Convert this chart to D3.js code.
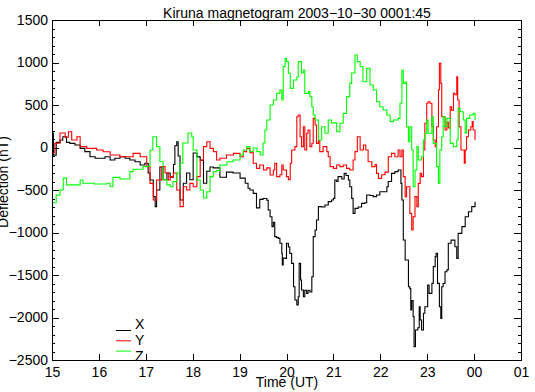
<!DOCTYPE html>
<html>
<head>
<meta charset="utf-8">
<script src="https://cdn.jsdelivr.net/npm/d3@7"></script>
<style>
  body { margin: 0; background: #fff; }
  svg { display: block; }
</style>
</head>
<body>
<svg id="chart" width="535" height="392"></svg>
<script>
// magnetometer components (hours UT, nT)
var xTimes = [15.00, 15.03, 15.09, 15.17, 15.23, 15.31, 15.38, 15.49, 15.60, 15.70, 15.81, 15.92, 16.02, 16.13, 16.24, 16.34, 16.45, 16.56, 16.66, 16.77, 16.88, 16.98, 17.05, 17.09, 17.16, 17.20, 17.23, 17.30, 17.37, 17.45, 17.52, 17.59, 17.62, 17.66, 17.69, 17.73, 17.80, 17.87, 17.94, 18.01, 18.09, 18.16, 18.23, 18.30, 18.37, 18.44, 18.51, 18.58, 18.72, 18.86, 19.01, 19.12, 19.18, 19.22, 19.29, 19.36, 19.43, 19.50, 19.58, 19.61, 19.65, 19.69, 19.72, 19.75, 19.79, 19.83, 19.86, 19.90, 19.91, 19.93, 19.97, 20.00, 20.04, 20.07, 20.11, 20.15, 20.18, 20.22, 20.25, 20.27, 20.30, 20.32, 20.36, 20.39, 20.43, 20.46, 20.50, 20.54, 20.57, 20.61, 20.64, 20.68, 20.75, 20.82, 20.89, 20.96, 21.00, 21.03, 21.07, 21.10, 21.18, 21.23, 21.27, 21.32, 21.35, 21.39, 21.42, 21.46, 21.53, 21.60, 21.67, 21.71, 21.78, 21.85, 21.92, 21.99, 22.06, 22.14, 22.17, 22.24, 22.31, 22.38, 22.42, 22.44, 22.46, 22.49, 22.53, 22.60, 22.63, 22.65, 22.67, 22.70, 22.72, 22.75, 22.80, 22.83, 22.85, 22.88, 22.92, 22.95, 23.01, 23.04, 23.10, 23.13, 23.17, 23.19, 23.22, 23.26, 23.29, 23.31, 23.34, 23.38, 23.42, 23.45, 23.51, 23.54, 23.59, 23.63, 23.66, 23.74, 23.81, 23.88, 23.95, 24.02];
var xValues = [170, -90, 60, 88, 127, 60, 49, 29, -10, -49, -108, -127, -127, -108, -147, -127, -108, -127, -147, -167, -206, -186, -300, -382, -578, -696, -500, -230, -380, -300, -350, -200, 20, 68, -100, -618, -420, -300, -380, -65, -110, -150, -420, -280, -230, -240, -240, -350, -290, -300, -360, -420, -480, -500, -540, -710, -610, -600, -620, -735, -814, -931, -880, -1049, -1060, -1069, -1127, -1245, -1382, -1300, -1304, -1127, -1170, -1245, -1363, -1638, -1794, -1853, -1755, -1363, -1559, -1676, -1755, -1680, -1716, -1680, -1700, -1520, -1049, -970, -853, -696, -700, -676, -637, -618, -598, -382, -400, -343, -370, -304, -330, -382, -461, -598, -775, -716, -700, -657, -650, -559, -565, -578, -559, -520, -520, -461, -400, -304, -284, -265, -265, -422, -618, -1088, -1324, -1638, -1660, -1912, -1800, -1990, -2343, -2147, -2120, -1873, -2029, -2147, -1950, -1873, -1618, -1716, -1598, -1402, -1284, -1245, -1598, -1873, -2010, -1638, -1600, -1461, -1440, -1127, -1088, -1090, -1167, -1304, -1010, -931, -814, -755, -696, -637];

var yTimes = [15.00, 15.06, 15.17, 15.28, 15.35, 15.42, 15.53, 15.60, 15.74, 15.95, 16.09, 16.24, 16.45, 16.66, 16.73, 16.88, 17.02, 17.09, 17.16, 17.23, 17.34, 17.41, 17.48, 17.52, 17.59, 17.66, 17.73, 17.80, 17.87, 17.94, 18.01, 18.09, 18.16, 18.23, 18.30, 18.37, 18.44, 18.51, 18.58, 18.72, 18.87, 19.01, 19.08, 19.15, 19.22, 19.29, 19.36, 19.43, 19.51, 19.58, 19.65, 19.72, 19.75, 19.79, 19.86, 19.90, 19.93, 20.00, 20.04, 20.08, 20.11, 20.18, 20.22, 20.25, 20.29, 20.32, 20.36, 20.39, 20.43, 20.46, 20.50, 20.54, 20.57, 20.61, 20.64, 20.68, 20.71, 20.78, 20.86, 20.89, 20.93, 21.00, 21.07, 21.14, 21.21, 21.28, 21.35, 21.42, 21.46, 21.51, 21.57, 21.64, 21.69, 21.74, 21.82, 21.89, 21.92, 21.96, 22.03, 22.10, 22.17, 22.24, 22.31, 22.38, 22.42, 22.46, 22.49, 22.53, 22.56, 22.60, 22.63, 22.67, 22.70, 22.74, 22.78, 22.81, 22.85, 22.88, 22.92, 22.95, 22.99, 23.02, 23.06, 23.10, 23.13, 23.17, 23.20, 23.24, 23.26, 23.29, 23.31, 23.34, 23.38, 23.42, 23.45, 23.49, 23.52, 23.56, 23.59, 23.63, 23.65, 23.68, 23.72, 23.79, 23.81, 23.84, 23.88, 23.93, 23.96, 23.98, 24.02];
var yValues = [-65, 50, 170, 120, 186, 88, 127, 10, -10, -29, -50, -88, -108, -108, -69, -108, -225, -422, -618, -382, -225, -300, -382, -343, -300, -500, -696, -461, -500, -422, -461, -343, -147, 10, 68, -10, -49, -147, -127, -88, -69, -108, -49, -10, -60, -186, -245, -206, -265, -240, -323, -265, -186, -343, -320, -206, -265, -343, -380, -186, -29, 10, 362, 382, 127, 10, 245, -29, 167, 206, 10, 50, 343, 265, 49, 80, -49, 10, -49, -108, -225, -245, -206, -225, -206, -245, -265, -147, -49, 127, -29, 29, -29, -167, -225, -200, -304, -363, -320, -290, -108, -69, -108, -29, -108, -29, -343, -578, -461, -461, -775, -970, -814, -578, -696, -422, -304, -343, -29, 285, 520, 539, 520, 245, 88, 10, 245, 676, 990, 755, 362, 362, 206, 300, 230, 480, 440, 637, 620, 833, 559, 245, -29, -186, -29, 127, 206, 245, 304, 206, 88];

var zTimes = [15.00, 15.09, 15.17, 15.24, 15.31, 15.38, 15.53, 15.60, 15.66, 15.90, 16.17, 16.24, 16.30, 16.39, 16.45, 16.60, 16.66, 16.73, 16.88, 16.94, 17.02, 17.09, 17.15, 17.23, 17.30, 17.37, 17.45, 17.52, 17.58, 17.66, 17.73, 17.79, 17.90, 17.98, 18.01, 18.09, 18.16, 18.23, 18.30, 18.37, 18.44, 18.51, 18.58, 18.73, 18.86, 19.01, 19.08, 19.15, 19.22, 19.29, 19.37, 19.44, 19.50, 19.54, 19.58, 19.65, 19.72, 19.79, 19.86, 19.90, 19.93, 19.97, 20.00, 20.04, 20.08, 20.15, 20.22, 20.25, 20.32, 20.36, 20.39, 20.47, 20.50, 20.54, 20.57, 20.61, 20.68, 20.75, 20.82, 20.89, 20.96, 21.07, 21.14, 21.21, 21.28, 21.35, 21.39, 21.46, 21.51, 21.57, 21.63, 21.71, 21.78, 21.85, 21.92, 21.99, 22.06, 22.14, 22.21, 22.28, 22.38, 22.42, 22.46, 22.49, 22.53, 22.56, 22.60, 22.63, 22.67, 22.70, 22.74, 22.78, 22.81, 22.88, 22.92, 22.95, 22.99, 23.02, 23.10, 23.13, 23.20, 23.24, 23.27, 23.31, 23.34, 23.38, 23.42, 23.49, 23.56, 23.63, 23.66, 23.70, 23.77, 23.81, 23.84, 23.91, 23.98, 24.02];
var zValues = [-650, -560, -500, -360, -440, -440, -440, -382, -420, -430, -420, -461, -351, -351, -370, -370, -284, -255, -255, -225, -220, -29, 127, 10, -167, -380, -440, -461, -402, -300, -185, 53, 170, 127, -29, -382, -500, -594, -520, -343, -284, -270, -206, -167, -147, -88, -29, 10, -49, -6, -49, -88, 53, 206, 323, 500, 559, 637, 676, 559, 951, 1049, 1010, 873, 696, 794, 830, 1010, 876, 912, 637, 657, 598, 480, 382, 323, 88, 245, 167, 323, 290, 186, 285, 402, 598, 755, 876, 1088, 1010, 951, 774, 931, 735, 676, 539, 480, 441, 382, 304, 323, 343, 520, 912, 755, 770, 245, 68, 245, -29, -461, -265, 10, -147, -108, 88, 167, 323, 167, 362, 49, -225, -422, -29, 127, 362, 245, 343, 49, 10, 88, 461, 421, 323, 167, 343, 382, 402, 323];

var hourTicks = [15, 16, 17, 18, 19, 20, 21, 22, 23, 24, 25];
var hourLabels = ["15", "16", "17", "18", "19", "20", "21", "22", "23", "00", "01"];
var nTTicks = [1500, 1000, 500, 0, -500, -1000, -1500, -2000, -2500];

var seriesNames = ["X", "Y", "Z"];
var seriesColors = ["#000000", "#ff0000", "#00ff00"];

var svg = d3.select("#chart");
var plotLeft = 52, plotRight = 521, plotTop = 20, plotBottom = 360;
var FONT = "'Liberation Sans', Arial, sans-serif";
var FONT_SIZE = 14;

var x = d3.scaleLinear().domain([15, 25]).range([plotLeft, plotRight]);
var y = d3.scaleLinear().domain([-2500, 1500]).range([plotBottom, plotTop]);

function pairs(times, values) {
    return times.map(function (t, i) { return [t, values[i]]; });
}
var series = [
    pairs(xTimes, xValues),
    pairs(yTimes, yValues),
    pairs(zTimes, zValues)
];

var line = d3.line()
    .x(function (d) { return x(d[0]); })
    .y(function (d) { return y(d[1]); })
    .curve(d3.curveStepAfter);

svg.append("g")
    .selectAll("path")
    .data(series)
    .enter()
    .append("path")
    .attr("d", line)
    .attr("fill", "none")
    .attr("stroke", function (d, i) { return seriesColors[i]; })
    .attr("stroke-width", 1.1);

// IDL style boxed axes, ticks pointing inward
var minorTicks = d3.range(-2500, 1501, 100);

function tickGroup(axis, transform) {
    var g = svg.append("g")
        .attr("transform", transform)
        .call(axis);
    g.select(".domain").remove();
    g.selectAll("line").attr("stroke", "#000").attr("shape-rendering", "crispEdges");
    g.selectAll("text").attr("font-family", FONT).attr("font-size", FONT_SIZE).attr("fill", "#000");
    return g;
}

tickGroup(d3.axisBottom(x).tickValues(hourTicks).tickSize(-6).tickPadding(7)
    .tickFormat(function (d, i) { return hourLabels[i]; }), "translate(0," + plotBottom + ")");
tickGroup(d3.axisTop(x).tickValues(hourTicks).tickSize(-6).tickFormat(""), "translate(0," + plotTop + ")");

tickGroup(d3.axisLeft(y).tickValues(minorTicks).tickSize(-3).tickFormat(""), "translate(" + plotLeft + ",0)");
tickGroup(d3.axisLeft(y).tickValues(nTTicks).tickSize(-7).tickPadding(4)
    .tickFormat(function (d) { return String(d).replace("-", "\u2212"); }), "translate(" + plotLeft + ",0)");
tickGroup(d3.axisRight(y).tickValues(minorTicks).tickSize(-3).tickFormat(""), "translate(" + plotRight + ",0)");
tickGroup(d3.axisRight(y).tickValues(nTTicks).tickSize(-7).tickFormat(""), "translate(" + plotRight + ",0)");

svg.append("rect")
    .attr("x", plotLeft + 0.5)
    .attr("y", plotTop + 0.5)
    .attr("width", plotRight - plotLeft)
    .attr("height", plotBottom - plotTop)
    .attr("fill", "none")
    .attr("stroke", "#000")
    .attr("shape-rendering", "crispEdges");

svg.append("text")
    .attr("x", 297)
    .attr("y", 18)
    .attr("text-anchor", "middle")
    .attr("font-family", FONT)
    .attr("font-size", FONT_SIZE)
    .text("Kiruna magnetogram 2003\u221210\u221230 0001:45");

svg.append("text")
    .attr("x", 287)
    .attr("y", 387)
    .attr("text-anchor", "middle")
    .attr("font-family", FONT)
    .attr("font-size", FONT_SIZE)
    .text("Time (UT)");

svg.append("text")
    .attr("transform", "translate(8,182) rotate(-90)")
    .attr("text-anchor", "middle")
    .attr("font-family", FONT)
    .attr("font-size", FONT_SIZE)
    .text("Deflection (nT)");

// legend
var legend = svg.append("g")
    .selectAll("g")
    .data(seriesNames)
    .enter()
    .append("g");

legend.append("line")
    .attr("x1", 116)
    .attr("x2", 131)
    .attr("y1", function (d, i) { return 330.5 + i * 10.3; })
    .attr("y2", function (d, i) { return 330.5 + i * 10.3; })
    .attr("stroke", function (d, i) { return seriesColors[i]; })
    .attr("stroke-width", 1);

legend.append("text")
    .attr("x", 135)
    .attr("y", function (d, i) { return 328.5 + i * 16.3; })
    .attr("font-family", FONT)
    .attr("font-size", FONT_SIZE)
    .text(function (d) { return d; });
</script>
</body>
</html>
